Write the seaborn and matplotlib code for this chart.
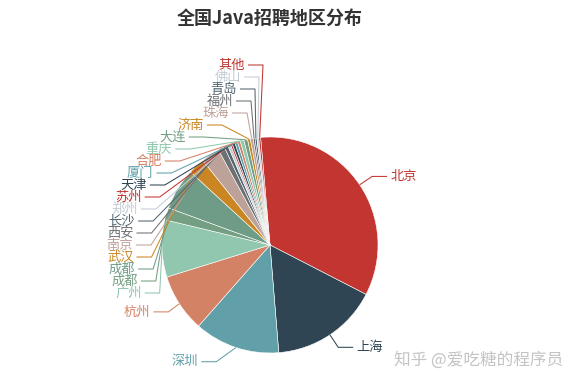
import numpy as np
import matplotlib
matplotlib.use('Agg')
import matplotlib.pyplot as plt
import seaborn as sns

# data (clockwise from the top)
cities = ['北京', '上海', '深圳', '杭州', '广州', '成都', '成都', '武汉', '南京', '西安',
          '长沙', '郑州', '苏州', '天津', '厦门', '合肥', '重庆', '大连', '济南', '珠海',
          '福州', '青岛', '佛山', '其他']
jobs = [1224, 582, 461, 314, 308, 66, 225, 90, 100, 35,
        20, 15, 10, 15, 15, 15, 20, 20, 15, 15,
        10, 10, 10, 10]
title = '全国Java招聘地区分布'
watermark = '知乎 @爱吃糖的程序员'

sns.set_theme(style='white')
plt.rcParams['font.family'] = ['Noto Sans CJK SC', 'DejaVu Sans']

# echarts default palette, with one extra green where the chart has two green slices
echarts = ['#c23531', '#2f4554', '#61a0a8', '#d48265', '#91c7ae', '#749f83',
           '#ca8622', '#bda29a', '#6e7074', '#546570', '#c4ccd3']
order = list(range(6)) + [5] + list(range(6, 11)) + list(range(11)) + [0]
colors = [echarts[i] for i in order]
colors[6] = '#6f9c86'
pal = sns.color_palette(colors)

W, H = 580, 386
cx, cy, r = 270, 245, 108
len1, len2, gap = 15, 15, 3
r_text = 137          # radius used by echarts to place the adjusted labels
stack_top, stack_step = 65, 12

fig = plt.figure(figsize=(W / 100, H / 100), dpi=100)
ax = fig.add_axes([0, 0, 1, 1])

wedges, _ = ax.pie(jobs, colors=pal, startangle=-95, counterclock=True,
                   center=(cx, cy), radius=r,
                   wedgeprops=dict(linewidth=0.4, edgecolor='white'))
ax.set_xlim(0, W)
ax.set_ylim(H, 0)
ax.set_aspect('equal')
ax.axis('off')

mids = [np.deg2rad((w.theta1 + w.theta2) / 2) for w in wedges]
left = [i for i, a in enumerate(mids) if np.cos(a) < 0]
# the two lowest left labels keep their place, the rest are stacked from the top
left_sorted = sorted(left, key=lambda i: cy + (r + len1) * np.sin(mids[i]), reverse=True)
stacked = left_sorted[2:][::-1]
stack_y = {i: stack_top + k * stack_step for k, i in enumerate(stacked)}

for i, a in enumerate(mids):
    c = pal[i]
    ex, ey = cx + r * np.cos(a), cy + r * np.sin(a)
    if np.cos(a) >= 0:
        bx, by = cx + (r + len1) * np.cos(a), cy + (r + len1) * np.sin(a)
        tx = bx + len2
        ax.plot([ex, bx, tx], [ey, by, by], color=c, lw=0.75, solid_capstyle='butt')
        ax.text(tx + gap, by, cities[i], color=c, fontsize=9.5, ha='left', va='center')
    else:
        if i in stack_y:
            ty = stack_y[i]
            floor = 25 + 4 * stacked.index(i)
        else:
            ty = cy + (r + len1) * np.sin(a)
            floor = 0
        dy = abs(ty - cy)
        dx = max(np.sqrt(max(r_text ** 2 - dy ** 2, 0)), floor)
        tx = cx - dx
        ax.plot([ex, tx + gap + len2, tx + gap], [ey, ty, ty], color=c, lw=0.75,
                solid_capstyle='butt')
        ax.text(tx, ty, cities[i], color=c, fontsize=9.5, ha='right', va='center')

ax.text(270, 18, title, fontsize=13, fontweight='bold', color='#333333',
        ha='center', va='center')
ax.text(563, 360, watermark, fontsize=12, color='#c4c4c4', ha='right', va='center')

fig.savefig('out.png', dpi=100)
